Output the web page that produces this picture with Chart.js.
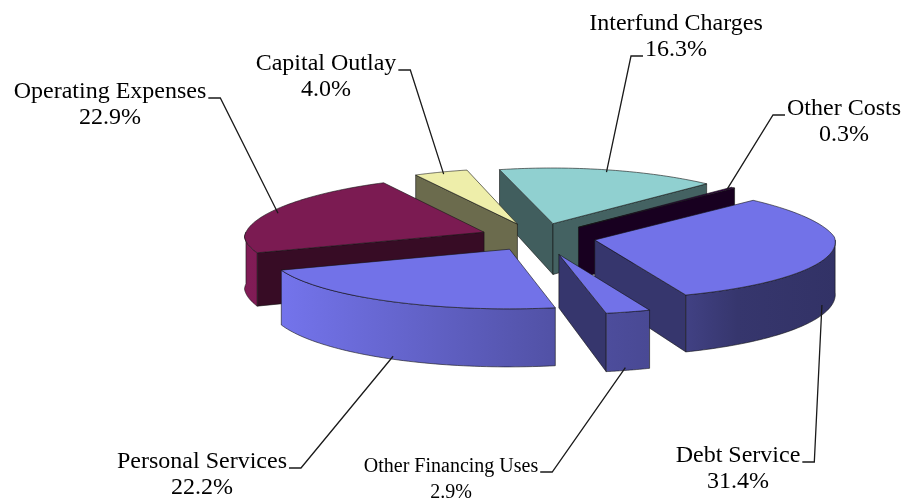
<!DOCTYPE html>
<html>
<head>
<meta charset="utf-8">
<script src="https://cdn.jsdelivr.net/npm/chart.js@4.4.0/dist/chart.umd.min.js"></script>
<style>
  html, body { margin: 0; padding: 0; background: #fff; }
</style>
</head>
<body>
<canvas id="pieChart" width="908" height="500"></canvas>
<script>
const categories = ['Personal Services', 'Operating Expenses', 'Capital Outlay', 'Interfund Charges',
                    'Other Costs', 'Debt Service', 'Other Financing Uses'];
const shares = [22.2, 22.9, 4.0, 16.3, 0.3, 31.4, 2.9];

const sliceColors = ['#7272e8', '#7b1b52', '#eeeeaa', '#90d0d0', '#330044', '#7272e8', '#7272e8'];
const explode = [58, 58, 58, 58, 58, 58, 75];

// label text centre + first baseline, the line the leader hangs from and on which side
const labelSpots = [
  { x: 202, y: 468, line: 0, side: 1 },
  { x: 110, y: 98, line: 0, side: 1 },
  { x: 326, y: 70, line: 0, side: 1 },
  { x: 676, y: 30, line: 1, side: -1 },
  { x: 844, y: 115, line: 0, side: -1 },
  { x: 738, y: 462, line: 0, side: 1 },
  { x: 451, y: 472, line: 0, side: 1, small: true }
];

const TILT = 0.24;          // vertical squash of the pie
const DEPTH = 52;           // thickness of the slices
const PERSP_BACK = 0.0004;  // far side shrinks
const PERSP_FRONT = 0.00012;
const PERSP_Y = 0.0001;
const PERSP_DEPTH = 0.0004; // near side looks thicker
const LINE_GAP = 26;
const STEPS = 60;
// light falls from the left: brightness of the rim across the pie width
const RIM_LIGHT = [[0, 1.05], [0.51, 0.72], [0.68, 0.64], [0.83, 0.47], [1, 0.44]];

function shade(hex, f) {
  const n = parseInt(hex.slice(1), 16);
  const c = [(n >> 16) & 255, (n >> 8) & 255, n & 255].map(v => Math.round(Math.min(255, v * f)));
  return `rgb(${c[0]},${c[1]},${c[2]})`;
}

// pie plane -> screen; X right, Y towards the viewer, Z down
function project(o, X, Y, Z) {
  const f = 1 / (1 - (Y < 0 ? PERSP_BACK : PERSP_FRONT) * Y);
  const g = 1 / (1 - PERSP_Y * Y);
  const d = 1 + PERSP_DEPTH * Y;
  return [o.x + X * f, o.y + Y * TILT * g + Z * d];
}

function rim(s, t, Z) {
  return project(s.o, s.tx + s.r * Math.cos(t), s.ty + s.r * Math.sin(t), Z);
}

function arcPoints(s, t0, t1, Z) {
  const pts = [];
  for (let k = 0; k <= STEPS; k++) pts.push(rim(s, t0 + (t1 - t0) * k / STEPS, Z));
  return pts;
}

function fillPoly(ctx, pts, fill) {
  ctx.beginPath();
  pts.forEach(([x, y], k) => (k ? ctx.lineTo(x, y) : ctx.moveTo(x, y)));
  ctx.closePath();
  ctx.fillStyle = fill;
  ctx.fill();
  ctx.stroke();
}

function drawSlice(ctx, s, x0, x1) {
  const { a, b } = s;
  const tip = project(s.o, s.tx, s.ty, 0);
  const tipLow = project(s.o, s.tx, s.ty, DEPTH);
  ctx.save();
  ctx.lineWidth = 0.8;
  ctx.strokeStyle = 'rgba(20,20,20,0.75)';
  ctx.lineJoin = 'round';

  // radial walls that face the viewer
  const walls = [];
  if (Math.cos(a) < 0) walls.push([a, 0.45]);
  if (Math.cos(b) > 0) walls.push([b, 0.47]);
  walls.forEach(([t, f]) => {
    fillPoly(ctx, [tip, rim(s, t, 0), rim(s, t, DEPTH), tipLow], shade(s.color, f));
  });

  // outer rim, front half only
  const TAU = Math.PI * 2;
  const a0 = ((a % TAU) + TAU) % TAU;
  const b0 = a0 + (b - a);
  [[0, Math.PI], [TAU, TAU + Math.PI]].forEach(([lo, hi]) => {
    const s0 = Math.max(a0, lo), s1 = Math.min(b0, hi);
    if (s1 <= s0) return;
    const g = ctx.createLinearGradient(x0, 0, x1, 0);
    RIM_LIGHT.forEach(([p, f]) => g.addColorStop(p, shade(s.color, f)));
    const pts = arcPoints(s, s0, s1, 0).concat(arcPoints(s, s1, s0, DEPTH));
    fillPoly(ctx, pts, g);
  });

  // top face
  fillPoly(ctx, [tip].concat(arcPoints(s, a, b, 0)), s.color);
  ctx.restore();
}

function drawLabels(ctx, slices) {
  ctx.save();
  ctx.fillStyle = '#000';
  ctx.strokeStyle = '#1a1a1a';
  ctx.lineWidth = 1.3;
  ctx.textAlign = 'center';
  ctx.textBaseline = 'alphabetic';
  slices.forEach(s => {
    const spot = labelSpots[s.i];
    ctx.font = (spot.small ? '20px' : '24px') + ' "Liberation Serif", "Times New Roman", serif';
    const lines = [categories[s.i], shares[s.i].toFixed(1) + '%'];
    lines.forEach((t, j) => ctx.fillText(t, spot.x, spot.y + j * LINE_GAP));
    const w = ctx.measureText(lines[spot.line]).width;
    const by = spot.y + spot.line * LINE_GAP;
    const sx = spot.x + spot.side * (w / 2 + 2);
    const front = Math.sin(s.m) > 0;
    const [ax, ay] = project(s.o, s.tx + s.r * 0.96 * Math.cos(s.m), s.ty + s.r * 0.96 * Math.sin(s.m),
                             front ? DEPTH : 0);
    ctx.beginPath();
    ctx.moveTo(sx, by);
    ctx.lineTo(sx + spot.side * 12, by);
    ctx.lineTo(ax, ay);
    ctx.stroke();
  });
  ctx.restore();
}

const pie3d = {
  id: 'pie3d',
  beforeDatasetsDraw(chart) {
    const ctx = chart.ctx;
    const arcs = chart.getDatasetMeta(0).data;
    const slices = arcs.map((arc, i) => {
      const a = arc.startAngle, b = arc.endAngle, m = (a + b) / 2;
      const e = arc.options.offset;
      return {
        i, a, b, m,
        o: { x: arc.x, y: arc.y },
        r: arc.outerRadius,
        tx: e * Math.cos(m),
        ty: e * Math.sin(m),
        color: sliceColors[i]
      };
    });
    const x0 = arcs[0].x - arcs[0].outerRadius - 50;
    const x1 = arcs[0].x + arcs[0].outerRadius + 60;
    slices.slice()
      .sort((p, q) => Math.sin(p.m) - Math.sin(q.m))
      .forEach(s => drawSlice(ctx, s, x0, x1));
    drawLabels(ctx, slices);
    return false;
  }
};

new Chart(document.getElementById('pieChart'), {
  type: 'pie',
  data: {
    labels: categories,
    datasets: [{
      data: shares,
      backgroundColor: sliceColors,
      offset: explode,
      borderWidth: 0
    }]
  },
  options: {
    responsive: false,
    animation: false,
    events: [],
    rotation: 169.2,
    radius: 240,
    layout: { padding: { left: 168, right: 0, top: 0, bottom: 26 } },
    plugins: {
      legend: { display: false },
      tooltip: { enabled: false }
    }
  },
  plugins: [pie3d]
});
</script>
</body>
</html>
